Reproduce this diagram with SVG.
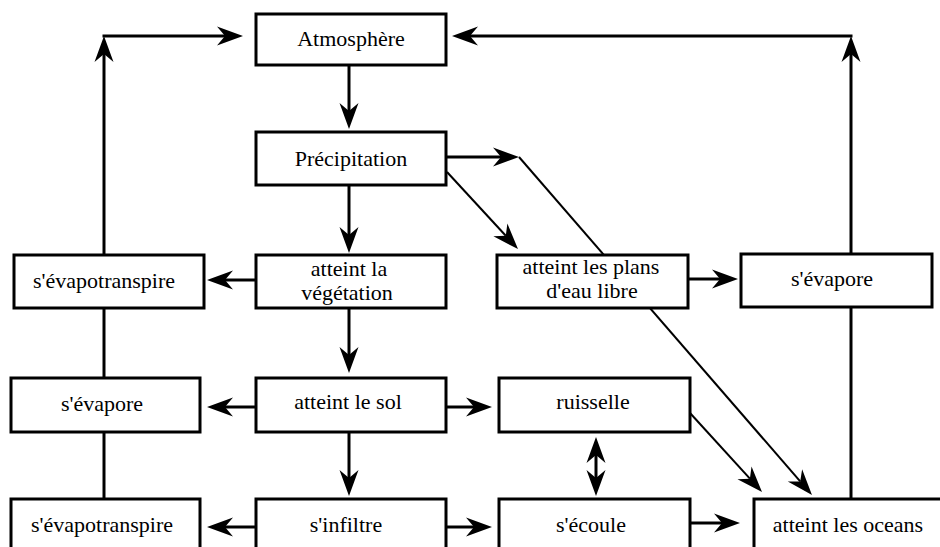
<svg xmlns="http://www.w3.org/2000/svg" width="940" height="547" viewBox="0 0 940 547">
<style>
.box rect{fill:#fff;stroke:#000;stroke-width:3}
.c{stroke:#000;stroke-width:3;fill:none}
.d{stroke:#000;stroke-width:2;fill:none}
.a{marker-end:url(#ah)}
</style>
<defs>
<marker id="ah" markerUnits="userSpaceOnUse" viewBox="-10 -11 30 22" markerWidth="30" markerHeight="22" refX="0" refY="0" orient="auto-start-reverse">
<path d="M18,0 L-8,-9.5 L0,0 L-8,9.5 Z" fill="#000"/>
</marker>
</defs>
<rect width="940" height="547" fill="#fff"/>
<g id="connectors">
<line class="c a" x1="349" y1="65" x2="349" y2="111"/>
<line class="c a" x1="349" y1="185" x2="349" y2="235"/>
<line class="c a" x1="349" y1="308" x2="349" y2="355"/>
<line class="c a" x1="349" y1="432" x2="349" y2="478"/>
<line class="c a" x1="256" y1="280" x2="225" y2="280"/>
<line class="c a" x1="256" y1="407" x2="225" y2="407"/>
<line class="c a" x1="256" y1="527" x2="225" y2="527"/>
<line class="c a" x1="446" y1="407" x2="474" y2="407"/>
<line class="c a" x1="446" y1="527" x2="474" y2="527"/>
<line class="c a" x1="690" y1="523" x2="722" y2="523"/>
<line class="c a" x1="688" y1="279" x2="720" y2="279"/>
<line class="c a" x1="104" y1="255" x2="104" y2="54"/>
<line class="c a" x1="102.5" y1="36" x2="225" y2="36"/>
<line class="c a" x1="851" y1="253" x2="851" y2="54"/>
<line class="c a" x1="852.5" y1="36" x2="470" y2="36"/>
<line class="c a" x1="446" y1="157" x2="501" y2="157"/>
<line class="d a" x1="519" y1="157" x2="800.2" y2="481.4"/>
<line class="d a" x1="447" y1="172" x2="505.8" y2="235.8"/>
<line class="d a" x1="690" y1="413" x2="749.9" y2="478.7"/>
<line class="c a" x1="596" y1="455" x2="596" y2="478" marker-start="url(#ah)"/>
<line class="c" x1="104" y1="308" x2="104" y2="378"/>
<line class="c" x1="104" y1="432" x2="104" y2="499"/>
<line class="c" x1="851" y1="307" x2="851" y2="499"/>
</g>
<g text-anchor="middle" fill="#000">
<g id="atmosphere" class="box"><rect x="256" y="14" width="190" height="51"/><text x="351" y="46" style="font-family:'Liberation Serif',serif;font-size:22px">Atmosphère</text></g>
<g id="precipitation" class="box"><rect x="256" y="132" width="190" height="53"/><text x="351" y="166" style="font-family:'Liberation Serif',serif;font-size:22px">Précipitation</text></g>
<g id="vegetation" class="box"><rect x="256" y="255" width="190" height="53"/><text x="349" y="276" style="font-family:'Liberation Serif',serif;font-size:22px">atteint la</text><text x="347" y="300" style="font-family:'Liberation Serif',serif;font-size:22px">végétation</text></g>
<g id="evapotranspire1" class="box"><rect x="14" y="255" width="190" height="53"/><text x="104" y="288" style="font-family:'Liberation Serif',serif;font-size:22px">s'évapotranspire</text></g>
<g id="plans" class="box"><rect x="497" y="255" width="191" height="53"/><text x="591" y="274" style="font-family:'Liberation Serif',serif;font-size:22px">atteint les plans</text><text x="592" y="298" style="font-family:'Liberation Serif',serif;font-size:22px">d'eau libre</text></g>
<g id="evapore2" class="box"><rect x="741" y="254" width="191" height="53"/><text x="832" y="286" style="font-family:'Liberation Serif',serif;font-size:22px">s'évapore</text></g>
<g id="evapore1" class="box"><rect x="11" y="378" width="189" height="54"/><text x="102" y="411" style="font-family:'Liberation Serif',serif;font-size:22px">s'évapore</text></g>
<g id="sol" class="box"><rect x="256" y="378" width="190" height="54"/><text x="348" y="409" style="font-family:'Liberation Serif',serif;font-size:22px">atteint le sol</text></g>
<g id="ruisselle" class="box"><rect x="499" y="378" width="191" height="54"/><text x="593" y="409" style="font-family:'Liberation Serif',serif;font-size:22px">ruisselle</text></g>
<g id="evapotranspire2" class="box"><rect x="11" y="499" width="189" height="60"/><text x="102" y="532" style="font-family:'Liberation Serif',serif;font-size:22px">s'évapotranspire</text></g>
<g id="infiltre" class="box"><rect x="256" y="499" width="190" height="60"/><text x="346" y="532" style="font-family:'Liberation Serif',serif;font-size:22px">s'infiltre</text></g>
<g id="ecoule" class="box"><rect x="499" y="499" width="191" height="60"/><text x="591" y="532" style="font-family:'Liberation Serif',serif;font-size:22px">s'écoule</text></g>
<g id="oceans" class="box"><rect x="754" y="499" width="195" height="60"/><text x="848" y="532" style="font-family:'Liberation Serif',serif;font-size:22px">atteint les oceans</text></g>
</g>
</svg>
